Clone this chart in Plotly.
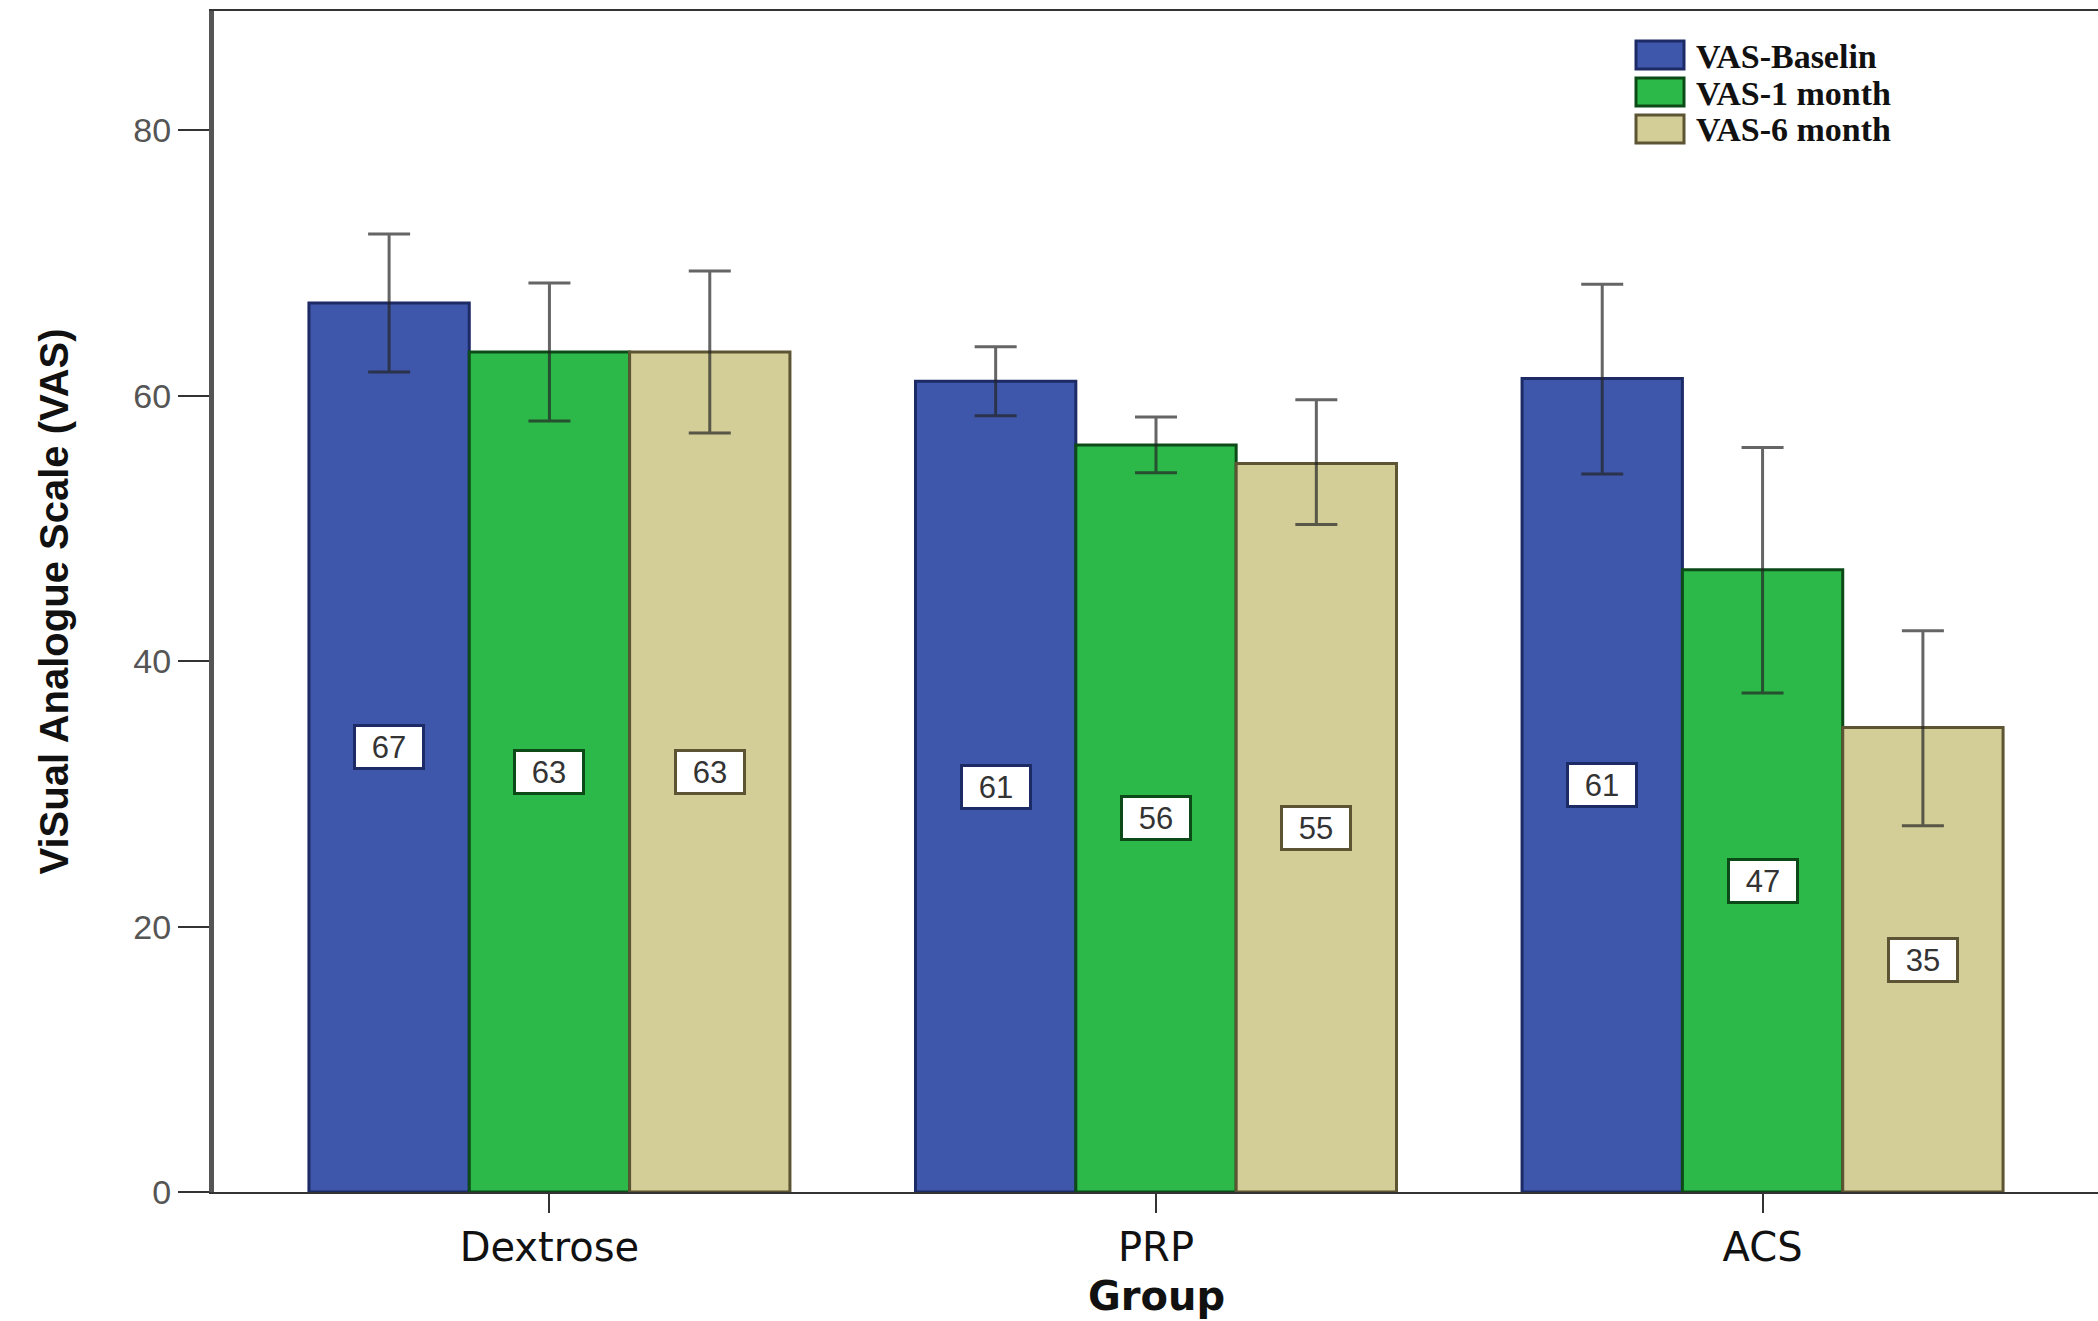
import plotly.graph_objects as go

groups = ["Dextrose", "PRP", "ACS"]
series_names = ["VAS-Baselin", "VAS-1 month", "VAS-6 month"]

vas_baseline = [67.0, 61.1, 61.3]
vas_1month = [63.3, 56.3, 46.9]
vas_6month = [63.3, 54.9, 35.0]

ci_upper_baseline = [72.2, 63.7, 68.4]
ci_lower_baseline = [61.8, 58.5, 54.1]
ci_upper_1month = [68.5, 58.4, 56.1]
ci_lower_1month = [58.1, 54.2, 37.6]
ci_upper_6month = [69.4, 59.7, 42.3]
ci_lower_6month = [57.2, 50.3, 27.6]

label_values = [[67, 61, 61], [63, 56, 47], [63, 55, 35]]

yticks = [0, 20, 40, 60, 80]

fills = ["#3f57ab", "#2db84a", "#d3cd98"]
outlines = ["#1c2a66", "#0c4a18", "#5c5432"]

values = [vas_baseline, vas_1month, vas_6month]
uppers = [ci_upper_baseline, ci_upper_1month, ci_upper_6month]
lowers = [ci_lower_baseline, ci_lower_1month, ci_lower_6month]

W, H = 2098, 1321
ML, MR, MT, MB = 214, 0, 11, 129
PW, PH = W - ML - MR, H - MT - MB

def px_x(p):
    return (p - ML) / PW

def px_y(p):
    return (H - MB - p) / PH

bargap = 0.207
bar_w = (1 - bargap) / 3

fig = go.Figure()
annotations = []
shapes = []
for j in range(3):
    v = values[j]
    up = [u - a for u, a in zip(uppers[j], v)]
    dn = [a - l for a, l in zip(v, lowers[j])]
    fig.add_trace(go.Bar(
        x=groups, y=v, name=series_names[j],
        marker=dict(color=fills[j], line=dict(color=outlines[j], width=3)),
        error_y=dict(type="data", symmetric=False, array=up, arrayminus=dn,
                     color="rgba(35,35,35,0.7)", thickness=3, width=21),
        hoverinfo="skip", showlegend=False,
    ))
    for i in range(3):
        annotations.append(dict(
            x=i + (j - 1) * bar_w, y=v[i] / 2, xref="x", yref="y",
            text=str(label_values[j][i]), showarrow=False,
            font=dict(family="Liberation Sans, Arial", size=31, color="#333333"),
            bgcolor="white", bordercolor=outlines[j], borderwidth=3, borderpad=3,
            width=60, height=34,
        ))
    # legend entry (manual, to match the large swatches)
    row_y = 55 + 37 * j
    shapes.append(dict(
        type="rect", xref="paper", yref="paper",
        x0=px_x(1636), x1=px_x(1684), y0=px_y(row_y + 14), y1=px_y(row_y - 14),
        fillcolor=fills[j], line=dict(color=outlines[j], width=3), layer="above",
    ))
    annotations.append(dict(
        x=px_x(1694), y=px_y(row_y + 1), xref="paper", yref="paper",
        text=series_names[j], showarrow=False, xanchor="left", yanchor="middle",
        font=dict(family="Liberation Serif", size=34, color="#111111", weight="bold"),
    ))

annotations.append(dict(
    x=px_x(53), y=0.5, xref="paper", yref="paper", textangle=-90,
    text="ViSual Analogue Scale (VAS)", showarrow=False,
    font=dict(family="Liberation Sans Narrow, Liberation Sans, Arial", size=40, color="#111111", weight="bold"),
    xanchor="center", yanchor="middle",
))
annotations.append(dict(
    x=0.5, y=px_y(1296), xref="paper", yref="paper",
    text="<b>Group</b>", showarrow=False,
    font=dict(family="DejaVu Sans", size=40, color="#111111"),
    xanchor="center", yanchor="middle",
))

fig.update_layout(
    width=W, height=H,
    margin=dict(l=ML, r=MR, t=MT, b=MB, autoexpand=False),
    paper_bgcolor="white", plot_bgcolor="white",
    barmode="group", bargap=bargap, bargroupgap=0,
    showlegend=False,
    annotations=annotations,
    shapes=shapes,
    xaxis=dict(range=[-0.553, 2.553], showline=True, linecolor="#333333", linewidth=2,
               mirror=True, ticks="outside", ticklen=19, tickwidth=2, tickcolor="#333333",
               tickfont=dict(family="DejaVu Sans", size=40, color="#111111"),
               showgrid=False, zeroline=False),
    yaxis=dict(range=[0, 89], tickvals=yticks, showline=True, linecolor="#555555", linewidth=5,
               ticks="outside", ticklen=31, tickwidth=2, tickcolor="#333333",
               tickfont=dict(family="Liberation Sans, Arial", size=34, color="#555555"),
               showgrid=False, zeroline=False),
)

fig.write_html("out.html", config={"displayModeBar": False},
               post_script="document.body.style.margin='0';")
